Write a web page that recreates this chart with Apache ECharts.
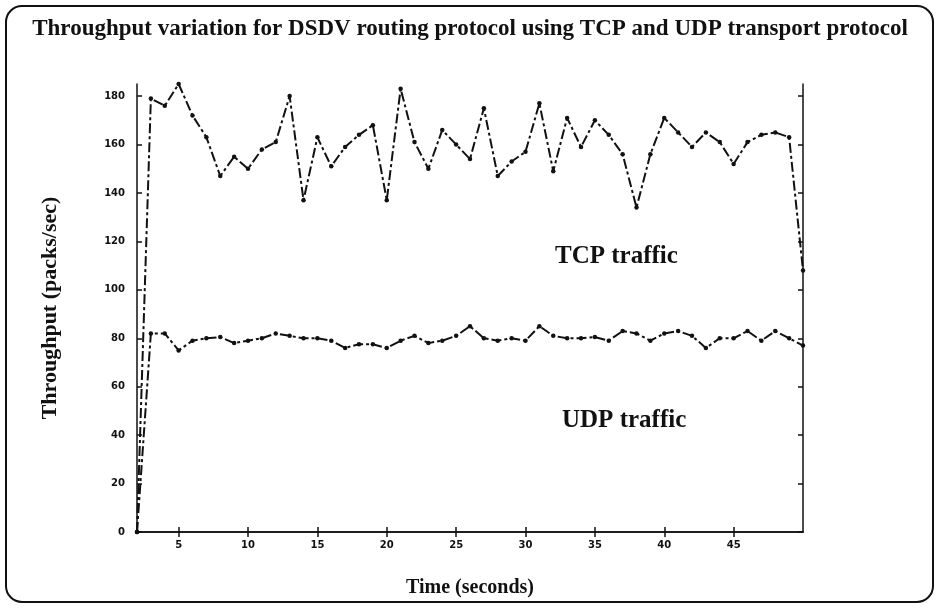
<!DOCTYPE html>
<html>
<head>
<meta charset="utf-8">
<script src="https://cdn.jsdelivr.net/npm/echarts@6/dist/echarts.min.js"></script>
<style>
  html, body { margin: 0; padding: 0; background: #fff; }
  #chart { width: 940px; height: 608px; }
</style>
</head>
<body>
<div id="chart"></div>
<script>
// time in seconds
const times = [2, 3, 4, 5, 6, 7, 8, 9, 10, 11, 12, 13, 14, 15, 16, 17, 18, 19, 20, 21, 22, 23, 24, 25, 26,
  27, 28, 29, 30, 31, 32, 33, 34, 35, 36, 37, 38, 39, 40, 41, 42, 43, 44, 45, 46, 47, 48, 49, 50];

// throughput (packs/sec)
const tcpValues = [0, 179, 176, 185, 172, 163, 147, 155, 150, 158, 161, 180, 137, 163, 151, 159, 164, 168, 137, 183, 161,
  150, 166, 160, 154, 175, 147, 153, 157, 177, 149, 171, 159, 170, 164, 156, 134, 156, 171, 165,
  159, 165, 161, 152, 161, 164, 165, 163, 108];
const udpValues = [0, 82, 82, 75, 79, 80, 80.5, 78, 79, 80, 82, 81, 80, 80, 79, 76, 77.5, 77.5, 76, 79, 81,
  78, 79, 81, 85, 80, 79, 80, 79, 85, 81, 80, 80, 80.5, 79, 83, 82, 79, 82, 83,
  81, 76, 80, 80, 83, 79, 83, 80, 77];

const xTicks = [5, 10, 15, 20, 25, 30, 35, 40, 45];
const yTicks = [0, 20, 40, 60, 80, 100, 120, 140, 160, 180];

const titleText = 'Throughput variation for DSDV routing protocol using TCP and UDP transport protocol';
const xName = 'Time (seconds)';
const yName = 'Throughput (packs/sec)';

const serif = '"Liberation Serif", "DejaVu Serif", serif';
const ink = '#111';

function pairs(vals) {
  return times.map((t, i) => [t, vals[i]]);
}

const chart = echarts.init(document.getElementById('chart'), null, { renderer: 'canvas' });

const lineSeries = (name, vals) => ({
  name: name,
  type: 'line',
  data: pairs(vals),
  symbol: 'circle',
  symbolSize: 4.5,
  itemStyle: { color: ink },
  lineStyle: { color: ink, width: 2, type: [10, 3, 3, 3] },
  animation: false
});

// ticks drawn inward on all four sides, like a boxed plot
const tickStyle = { inside: true, length: 5, lineStyle: { color: ink, width: 1.5 } };
const lineStyle = { show: true, lineStyle: { color: ink, width: 1.5 } };

const option = {
  backgroundColor: '#fff',
  graphic: [
    {
      type: 'rect',
      shape: { x: 6, y: 6, width: 927, height: 596, r: 16 },
      style: { fill: 'none', stroke: ink, lineWidth: 2 },
      z: 0
    },
    {
      type: 'text',
      left: 'center',
      top: 18,
      style: { text: titleText, font: 'bold 23px ' + serif, fill: ink }
    },
    {
      type: 'text',
      left: 555,
      top: 244,
      style: { text: 'TCP traffic', font: 'bold 25px ' + serif, fill: ink }
    },
    {
      type: 'text',
      left: 562,
      top: 408,
      style: { text: 'UDP traffic', font: 'bold 25px ' + serif, fill: ink }
    }
  ],
  grid: { left: 137, right: 137, top: 84, bottom: 76 },
  xAxis: [
    {
      type: 'value',
      min: 2,
      max: 50,
      name: xName,
      nameLocation: 'middle',
      nameGap: 46,
      nameTextStyle: { fontFamily: serif, fontSize: 20, fontWeight: 'bold', color: ink },
      axisLine: lineStyle,
      axisTick: Object.assign({ customValues: xTicks }, tickStyle),
      axisLabel: {
        customValues: xTicks,
        fontFamily: '"DejaVu Sans", sans-serif',
        fontWeight: 'bold',
        fontSize: 10,
        color: ink,
        margin: 8
      },
      splitLine: { show: false }
    },
    {
      type: 'value',
      position: 'top',
      min: 2,
      max: 50,
      axisLine: lineStyle,
      axisTick: Object.assign({ customValues: xTicks }, tickStyle),
      axisLabel: { show: false },
      splitLine: { show: false }
    }
  ],
  yAxis: [
    {
      type: 'value',
      min: 0,
      max: 185,
      name: yName,
      nameLocation: 'middle',
      nameGap: 76,
      nameTextStyle: { fontFamily: serif, fontSize: 22, fontWeight: 'bold', color: ink },
      axisLine: lineStyle,
      axisTick: Object.assign({ show: true, customValues: yTicks }, tickStyle),
      axisLabel: {
        customValues: yTicks,
        fontFamily: '"DejaVu Sans", sans-serif',
        fontWeight: 'bold',
        fontSize: 10,
        color: ink,
        margin: 12
      },
      splitLine: { show: false }
    },
    {
      type: 'value',
      position: 'right',
      min: 0,
      max: 185,
      axisLine: lineStyle,
      axisTick: Object.assign({ show: true, customValues: yTicks }, tickStyle),
      axisLabel: { show: false },
      splitLine: { show: false }
    }
  ],
  series: [
    lineSeries('TCP', tcpValues),
    lineSeries('UDP', udpValues)
  ]
};

chart.setOption(option);
</script>
</body>
</html>
